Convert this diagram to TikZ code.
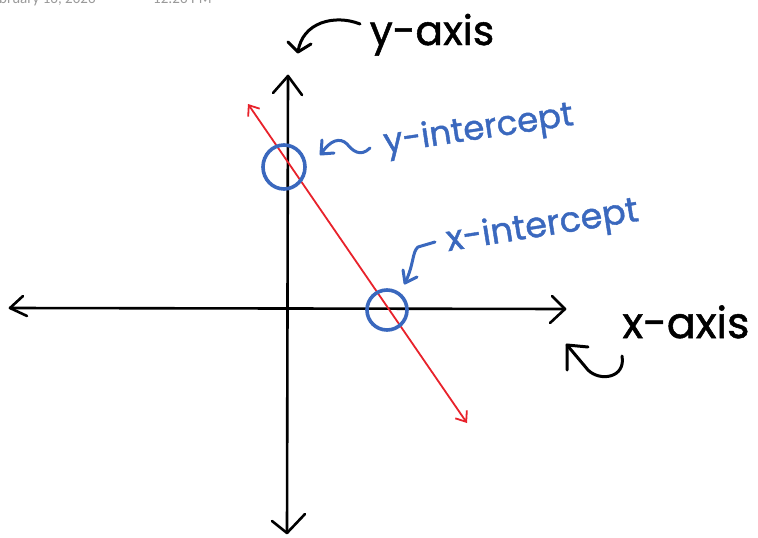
\documentclass[tikz,border=0pt]{standalone}
\usepackage{fontspec}
\setmainfont{Poppins}[FakeBold=1.2]
\newfontfamily\hdrfont{Carlito}
\usetikzlibrary{arrows.meta,shapes.geometric}
\definecolor{inkred}{HTML}{E8222B}
\definecolor{inkblue}{HTML}{3A68BE}
\definecolor{hdrgray}{HTML}{9A9A9A}
\tikzset{
  axisline/.style={line width=2.6pt, black, line cap=round, line join=round},
  redline/.style={line width=1.8pt, inkred, line cap=round,
    {Straight Barb[length=9pt,width=14pt,line width=1.8pt]}-{Straight Barb[length=9pt,width=14pt,line width=1.8pt]}},
  bluering/.style={line width=3.6pt, inkblue},
  bluepen/.style={line width=3pt, inkblue, line cap=round, line join=round},
  blackpen/.style={line width=3pt, black, line cap=round, line join=round},
  hand/.style={inner sep=0pt, anchor=base},
}
\begin{document}
\begin{tikzpicture}[x=1pt,y=-1pt]
\useasboundingbox[fill=white] (0,0) rectangle (758,538);
% header
\node[anchor=base west, inner sep=0pt, text=hdrgray, font=\hdrfont\fontsize{15}{15}\selectfont] (date) at (-1,4) {bruary 16, 2026};
\node[anchor=base west, inner sep=0pt, text=hdrgray, font=\hdrfont\fontsize{15}{15}\selectfont] (time) at (153,4) {12:26 PM};
% axes
\coordinate (ytop) at (288,76);
\coordinate (ybot) at (287,533);
\coordinate (xleft) at (10,308);
\coordinate (xright) at (565,309);
\draw[axisline] (ytop) -- (ybot);
\draw[axisline] (xleft) -- (xright);
\draw[axisline] (273,93) -- (ytop) -- (302,95);
\draw[axisline] (272,521) -- (ybot) -- (305,514);
\draw[axisline] (23,296) -- (xleft) -- (27,316);
\draw[axisline] (552,296) -- (xright) -- (550,323);
% red line
\coordinate (rtop) at (248,104);
\coordinate (rbot) at (467,423);
\draw[redline] (rtop) -- (rbot);
% circles
\node[bluering, ellipse, minimum width=42pt, minimum height=44pt, inner sep=0pt, draw] (yint) at (284,167) {};
\node[bluering, circle, minimum width=40pt, inner sep=0pt, draw] (xint) at (387,310) {};
% labels
\node[hand, font=\fontsize{41}{41}\selectfont] (ylab) at (432,45) {y-axis};
\node[hand, font=\fontsize{43}{43}\selectfont] (xlab) at (686,338) {x-axis};
\node[hand, text=inkblue, rotate=8.5, font=\fontsize{34}{34}\selectfont] (yilab) at (480,139) {y-intercept};
\node[hand, text=inkblue, rotate=9, font=\fontsize{35}{35}\selectfont] (xilab) at (544,236) {x-intercept};
% y-axis arrow
\coordinate (ya0) at (360,24);
\coordinate (ya1) at (298,52);
\draw[blackpen] (ya0) .. controls (335,14) and (302,22) .. (ya1);
\draw[blackpen] (288,42) -- (ya1) -- (311,44);
% x-axis arrow
\coordinate (xa0) at (622,356);
\coordinate (xa1) at (567,345);
\draw[blackpen] (xa0) .. controls (626,378) and (600,382) .. (588,370) -- (xa1);
\draw[blackpen] (567,370) -- (xa1) -- (588,347);
% y-intercept squiggle
\coordinate (yia0) at (370,148);
\coordinate (yia1) at (321,154);
\draw[bluepen] (yia0) .. controls (360,158) and (352,150) .. (347,144) .. controls (340,137) and (330,140) .. (yia1);
\draw[bluepen] (322,140) -- (yia1) -- (334,153);
% x-intercept arrow
\coordinate (xia0) at (435,242);
\coordinate (xia1) at (405,283);
\draw[bluepen] (xia0) -- (418,247) .. controls (412,252) and (414,265) .. (xia1);
\draw[bluepen] (403,270) -- (xia1) -- (417,277);
\end{tikzpicture}
\end{document}
